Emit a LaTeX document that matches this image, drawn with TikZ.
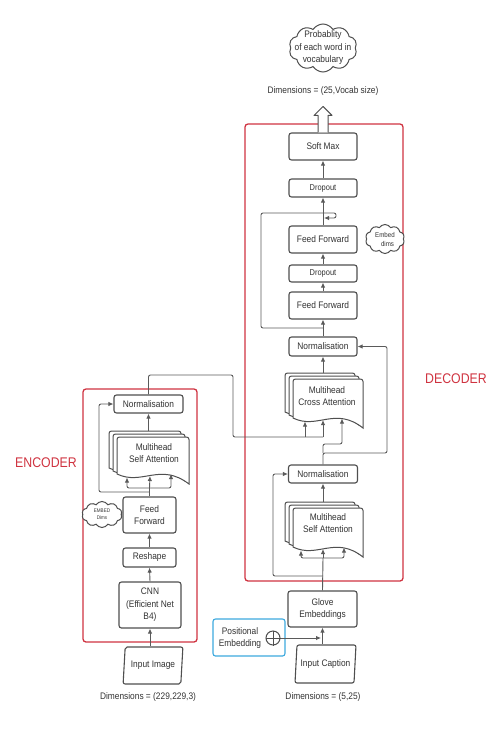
\documentclass[tikz,border=0pt]{standalone}
\usepackage{fontspec}
\setmainfont[FakeStretch=0.88]{Liberation Sans}
\usetikzlibrary{shapes.symbols,shapes.geometric,arrows.meta,calc}
\definecolor{lg}{HTML}{5A5A5A}
\definecolor{bg}{HTML}{4F4F4F}
\definecolor{rd}{HTML}{CF3340}
\definecolor{bl}{HTML}{3DA9DE}
\definecolor{tx}{HTML}{333333}
\newcommand\docstack[4]{%
  \foreach \dd in {8,4,0}{%
    \pgfmathsetmacro\dXa{#1-\dd}\pgfmathsetmacro\dYa{#2-0.75*\dd}%
    \pgfmathsetmacro\dXb{#3-\dd}\pgfmathsetmacro\dYb{#4-0.75*\dd}%
    \pgfmathsetmacro\dXc{\dXa+0.6*(\dXb-\dXa)}\pgfmathsetmacro\dXd{\dXa+0.35*(\dXb-\dXa)}%
    \filldraw[docst] (\dXa,{\dYb-2}) [rounded corners=2.5pt] -- (\dXa,\dYa) -- (\dXb,\dYa) [sharp corners] -- (\dXb,{\dYb+8})
      .. controls (\dXc,{\dYb-14}) and (\dXd,{\dYb+10}) .. (\dXa,{\dYb-2}) -- cycle;
  }}
\begin{document}
\begin{tikzpicture}[x=1pt,y=-1pt,
  box/.style={draw=bg,line width=1.1pt,rounded corners=2.5pt,fill=white,align=center,inner sep=0pt,text=tx,font=\fontsize{9.5}{12.5}\selectfont},
  small/.style={font=\fontsize{8.5}{10}\selectfont},
  txt/.style={text=tx,align=center,inner sep=0pt,font=\fontsize{9.5}{12.5}\selectfont},
  docst/.style={draw=bg,line width=1pt,fill=white},
  para/.style={trapezium,trapezium left angle=79,trapezium right angle=101,trapezium stretches=true,draw=bg,line width=1.1pt,rounded corners=2pt,fill=white,text=tx,inner sep=0pt,font=\fontsize{9.5}{12}\selectfont},
  cloudst/.style={cloud,cloud puffs=10,cloud puff arc=115,draw=bg,line width=1pt,fill=white,inner sep=0pt},
  ar/.style={draw=lg,line width=0.9pt,rounded corners=2pt,-{Latex[length=5pt,width=4.5pt]}},
  ln/.style={draw=lg,line width=0.9pt,rounded corners=2pt},
  frame/.style={draw=rd,line width=1.3pt,rounded corners=3pt},
  lbl/.style={text=rd,inner sep=0pt,font=\fontsize{14}{16}\selectfont}]
\useasboundingbox (0,0) rectangle (498,732);

% frames
\draw[frame] (83,389) rectangle (197,642);
\draw[frame] (245,124) rectangle (403,581);
\node[lbl] (enc) at (46,463) {ENCODER};
\node[lbl] (dec) at (456,379) {DECODER};

% top cloud and dimensions
\node[cloudst,minimum width=68,minimum height=48] (prob) at (323,48) {};
\node[txt] (probtxt) at (prob.center) {Probablity\\of each word in\\vocabulary};
\node[txt] (dim3) at (323,91) {Dimensions = (25,Vocab size)};

% decoder boxes
\node[box,minimum width=68,minimum height=27] (softmax) at (323,146.5) {Soft Max};
\node[box,small,minimum width=68,minimum height=18] (drop1) at (323,188) {Dropout};
\node[box,minimum width=68,minimum height=27] (ff1) at (323,239.5) {Feed Forward};
\node[box,small,minimum width=68,minimum height=17] (drop2) at (323,273.5) {Dropout};
\node[box,minimum width=68,minimum height=27] (ff2) at (323,305.5) {Feed Forward};
\node[box,minimum width=68,minimum height=19] (norm2) at (323,346.5) {Normalisation};
\node[box,minimum width=69,minimum height=18] (norm1) at (323,474) {Normalisation};
\node[box,minimum width=69,minimum height=36] (glove) at (322.5,609) {Glove\\Embeddings};
\node[cloudst,minimum width=39,minimum height=29] (dcloud) at (385,239) {};
\node[txt,font=\fontsize{7}{9}\selectfont] (dcloudtxt) at (dcloud.center) {Embed\\\ \ \ dims};

% documents
\docstack{293}{379}{363}{420}
\node[txt,font=\fontsize{9.5}{12}\selectfont] (cross) at (327,396) {Multihead\\Cross Attention};
\docstack{293}{508}{363}{549}
\node[txt,font=\fontsize{9.5}{12}\selectfont] (dsa) at (328,523.5) {Multihead\\Self Attention};
\docstack{117}{437}{189}{476}
\node[txt,font=\fontsize{9.5}{12}\selectfont] (esa) at (154,453) {Multihead\\Self Attention};

% positional embedding and caption
\node[box,draw=bl,minimum width=72,minimum height=37] (pos) at (249,637.5) {};
\node[txt,font=\fontsize{9.5}{12}\selectfont] (postxt) at (240,638) {Positional\\Embedding};
\node[circle,draw=bg,line width=1pt,minimum size=14pt,inner sep=0pt] (plus) at (273,638) {};
\draw[bg,line width=1pt] (plus.north) -- (plus.south) (plus.west) -- (plus.east);
\node[para,minimum width=61,minimum height=38] (incap) at (325.5,664) {Input Caption};
\node[txt] (dim2) at (323,697) {Dimensions = (5,25)};

% encoder boxes
\node[box,minimum width=69,minimum height=18] (enorm) at (148.5,404) {Normalisation};
\node[box,minimum width=53,minimum height=36] (eff) at (149.5,515) {Feed\\Forward};
\node[cloudst,minimum width=40,minimum height=26] (ecloud) at (102,514.5) {};
\node[txt,font=\fontsize{5.2}{7}\selectfont] (ecloudtxt) at (ecloud.center) {EMBED\\Dims};
\node[box,minimum width=53,minimum height=19] (reshape) at (149.5,557.5) {Reshape};
\node[box,minimum width=62,minimum height=46] (cnn) at (150,605) {CNN\\(Efficient Net\\B4)};
\node[para,minimum width=60,minimum height=37] (inimg) at (153,665.5) {Input Image};
\node[txt] (dim1) at (148,697) {Dimensions = (229,229,3)};

% coordinates
\coordinate (esplit) at (149.5,488);
\coordinate (ein1) at (127,477.5);
\coordinate (ein2) at (150,476);
\coordinate (ein3) at (171,474);
\coordinate (etop) at (148.5,431);
\coordinate (ca1) at (305,421.5);
\coordinate (ca2) at (323,420);
\coordinate (ca3) at (342,418.5);
\coordinate (ctop) at (323,373);
\coordinate (dsplit) at (323,558);
\coordinate (ds1) at (301,550.5);
\coordinate (ds2) at (323,549);
\coordinate (ds3) at (344,547.5);
\coordinate (dtop) at (323,502);

% encoder connectors
\draw[ar] (cnn.south |- inimg.north) -- (cnn.south);
\draw[ar] (cnn.north) -- (reshape.south);
\draw[ar] (reshape.north) -- (eff.south);
\draw[ln] (eff.north) -- (esplit);
\draw[ar] (esplit) -| (ein1);
\draw[ar] (esplit) -- (ein2);
\draw[ar] (esplit) -| (ein3);
\draw[ar] (149.5,492) -- (99,492) -- (99,404) -- (enorm.west);
\draw[ar] (etop) -- (enorm.south);
\draw[ln] (enorm.north) -- (148.5,375) -- (233,375) -- (233,437) -- (323,437);
\draw[ar] (305,437) -- (ca1);
\draw[ar] (323,437) -- (ca2);

% decoder connectors
\draw[ar] (glove.south |- incap.north) -- (glove.south);
\draw[ar,shorten >=1.5pt] (plus.east) -- (glove.south |- plus.east);
\draw[ln] (glove.north) -- (dsplit);
\draw[ar] (dsplit) -| (ds1);
\draw[ar] (dsplit) -- (ds2);
\draw[ar] (dsplit) -| (ds3);
\draw[ar] (323,576) -- (273,576) -- (273,474) -- (norm1.west);
\draw[ar] (dtop) -- (norm1.south);
\draw[ar] (norm1.north) -- (323,453) -- (387,453) -- (387,346.5) -- (norm2.east);
\draw[ar] (323,453) -- (323,444) -- (342,444) -- (ca3);
\draw[ar] (ctop) -- (norm2.south);
\draw[ar] (norm2.north) -- (ff2.south);
\draw[ar] (323,328) -- (261,328) -- (261,213) -- (336,213) -- (336,218) -- (324,218);
\draw[ar] (ff2.north) -- (drop2.south);
\draw[ar] (drop2.north) -- (ff1.south);
\draw[ar] (ff1.north) -- (drop1.south);
\draw[ar] (drop1.north) -- (softmax.south);

% hollow output arrow
\draw[draw=bg,line width=1pt,fill=white,line join=round] ($(softmax.north)+(-5,0)$) -- ++(0,-17) -- ++(-4,0) -- ($(softmax.north)+(0,-26)$) -- ($(softmax.north)+(9,-17)$) -- ++(-4,0) -- ($(softmax.north)+(5,0)$);
\end{tikzpicture}
\end{document}
